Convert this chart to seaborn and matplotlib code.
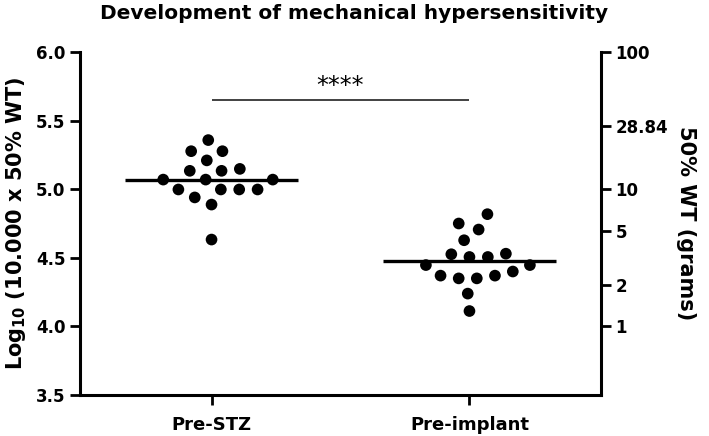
import numpy as np
import pandas as pd
import matplotlib
matplotlib.use("Agg")
import matplotlib.pyplot as plt
import seaborn as sns

# ---- data ----
categories = ["Pre-STZ", "Pre-implant"]
pre_stz = [5.21, 5.134, 5.277, 5.277, 5.358, 5.134, 5.148, 5.07, 5.07, 5.07,
           4.998, 4.998, 4.998, 4.998, 4.94, 4.888, 4.633]
pre_implant = [4.447, 4.628, 4.37, 4.75, 4.526, 4.35, 4.706, 4.506, 4.35, 4.818,
               4.37, 4.239, 4.112, 4.506, 4.40, 4.53, 4.447]
left_ticks = [3.5, 4.0, 4.5, 5.0, 5.5, 6.0]
right_tick_grams = [100, 28.84, 10, 5, 2, 1]
right_tick_labels = ["100", "28.84", "10", "5", "2", "1"]
sig_label = "****"
sig_level = 5.65

df = pd.DataFrame({
    "group": [categories[0]] * len(pre_stz) + [categories[1]] * len(pre_implant),
    "value": pre_stz + pre_implant,
})

sns.set_style("ticks")
plt.rcParams["font.family"] = ["DejaVu Sans"]
plt.rcParams["font.weight"] = "bold"
plt.rcParams["text.color"] = "black"
plt.rcParams["axes.labelcolor"] = "black"
plt.rcParams["xtick.color"] = "black"
plt.rcParams["ytick.color"] = "black"
plt.rcParams["mathtext.fontset"] = "custom"
plt.rcParams["mathtext.rm"] = "DejaVu Sans:bold"
plt.rcParams["mathtext.bf"] = "DejaVu Sans:bold"
plt.rcParams["mathtext.default"] = "rm"

fig = plt.figure(figsize=(7.09, 4.36), dpi=100)
ax = fig.add_axes([80 / 709, 1 - 395 / 436, (601 - 80) / 709, (395 - 52) / 436])

# transparent edge widens the swarm spacing without enlarging the visible dot
sns.swarmplot(data=df, x="group", y="value", order=categories, color="black",
              size=8.4, ax=ax, linewidth=4.2, edgecolor="none")

# mean lines
for i, vals in enumerate([pre_stz, pre_implant]):
    m = np.mean(vals)
    ax.hlines(m, i - 0.335, i + 0.335, color="black", lw=2.4, zorder=5)

ax.set_xlim(-0.51, 1.51)
ax.set_ylim(3.5, 6.0)
ax.set_yticks(left_ticks)
ax.set_yticklabels([f"{v:.1f}" for v in left_ticks])
ax.set_xlabel("")
ax.set_ylabel(r"Log$_{10}$ (10.000 x 50% WT)", fontsize=15, fontweight="bold",
              labelpad=6, color="black")
ax.tick_params(axis="both", width=2, length=7, direction="out", color="black",
               labelcolor="black")
ax.tick_params(axis="y", labelsize=12)
ax.tick_params(axis="x", labelsize=13, pad=8)
for s in ["left", "bottom"]:
    ax.spines[s].set_linewidth(2.2)
    ax.spines[s].set_color("black")
ax.spines["top"].set_visible(False)
ax.spines["right"].set_visible(False)
for lab in ax.get_xticklabels() + ax.get_yticklabels():
    lab.set_fontweight("bold")

# right axis
ax2 = ax.twinx()
ax2.set_ylim(3.5, 6.0)
ax2.set_yticks([np.log10(g * 10000) for g in right_tick_grams])
ax2.set_yticklabels(right_tick_labels)
ax2.tick_params(axis="y", width=2, length=7, labelsize=12, color="black",
                labelcolor="black")
for lab in ax2.get_yticklabels():
    lab.set_fontweight("bold")
ax2.set_ylabel("50% WT (grams)", fontsize=15, fontweight="bold", rotation=270,
               labelpad=20, color="black")
for s in ["top", "left", "bottom"]:
    ax2.spines[s].set_visible(False)
ax2.spines["right"].set_linewidth(2.2)
ax2.spines["right"].set_color("black")

# significance bar
ax.hlines(sig_level, 0, 1, color="#333333", lw=1.3)
ax.text(0.5, sig_level + 0.015, sig_label, ha="center", va="bottom", fontsize=17,
        fontweight="normal", color="black")

fig.suptitle("Development of mechanical hypersensitivity", x=0.5, y=0.99,
             fontsize=14.5, fontweight="bold", color="black")

fig.savefig("out.png", dpi=100)
